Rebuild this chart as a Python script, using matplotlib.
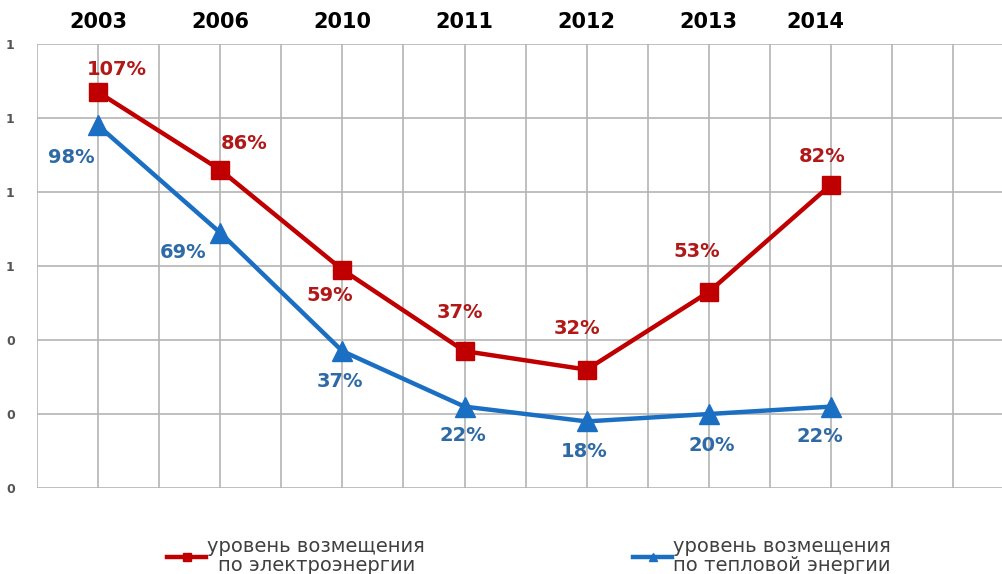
import matplotlib.pyplot as plt
from matplotlib.transforms import ScaledTranslation
from matplotlib.ticker import FormatStrFormatter, MultipleLocator

years = ["2003", "2006", "2010", "2011", "2012", "2013", "2014"]
elec = [1.07, 0.86, 0.59, 0.37, 0.32, 0.53, 0.82]
heat = [0.98, 0.69, 0.37, 0.22, 0.18, 0.20, 0.22]
elec_name = "уровень возмещения\nпо электроэнергии"
heat_name = "уровень возмещения\nпо тепловой энергии"

# label offsets in pixels relative to each marker
elec_off = [(19, 23), (24, 26), (-13, -26), (-5, 39), (-10, 41), (-12, 40), (-9, 28)]
heat_off = [(-27, -32), (-37, -20), (-2, -30), (-2, -29), (-2, -30), (3, -31), (-11, -30)]

red = "#c00000"
blue = "#1b6fc2"
red_txt = "#b11818"
blue_txt = "#2e6aa6"

fig = plt.figure(figsize=(10.02, 5.74), dpi=100)
ax = fig.add_axes([0.0369, 0.1498, 0.9631, 0.7735])

x = list(range(len(years)))
ax.plot(x, elec, color=red, lw=3.2, marker="s", ms=13.5, mec=red, zorder=3,
        label=elec_name)
ax.plot(x, heat, color=blue, lw=3.2, marker="^", ms=14, mec=blue, zorder=3,
        label=heat_name)

for xi, v, off in zip(x, elec, elec_off):
    ax.annotate(f"{round(v * 100)}%", (xi, v), xytext=off, textcoords="offset pixels",
                ha="center", va="center", color=red_txt, fontsize=14, fontweight="bold")
for xi, v, off in zip(x, heat, heat_off):
    ax.annotate(f"{round(v * 100)}%", (xi, v), xytext=off, textcoords="offset pixels",
                ha="center", va="center", color=blue_txt, fontsize=14, fontweight="bold")

ax.set_xlim(-0.5, 7.4)
ax.set_ylim(0, 1.2)
ax.set_xticks(x)
ax.set_xticklabels(years)
ax.xaxis.set_minor_locator(MultipleLocator(0.5))
ax.yaxis.set_major_locator(MultipleLocator(0.2))
ax.yaxis.set_major_formatter(FormatStrFormatter("%.0f"))
ax.xaxis.tick_top()
ax.tick_params(axis="x", which="both", length=0, pad=9, labelsize=15)
ax.tick_params(axis="y", length=0, pad=16, labelsize=9, labelcolor="#555555")
for t in ax.get_xticklabels():
    t.set_fontweight("bold")
for t in ax.get_yticklabels():
    t.set_fontweight("bold")

# last year label sits a little left of its column
last = ax.xaxis.get_major_ticks()[-1].label2
last.set_transform(last.get_transform() + ScaledTranslation(-0.16, 0, fig.dpi_scale_trans))

ax.grid(True, which="both", axis="x", color="#b4b4b4", lw=1.2)
ax.grid(True, which="major", axis="y", color="#b4b4b4", lw=1.2)
ax.set_axisbelow(True)
for s in ax.spines.values():
    s.set_visible(False)

leg = fig.legend(loc="center", bbox_to_anchor=(0.528, 0.031), ncol=2, frameon=False,
                 fontsize=14, handlelength=2.0, handletextpad=0.05, columnspacing=10.7,
                 markerscale=0.45, labelcolor="#404040", labelspacing=0.2)
for t in leg.get_texts():
    t.set_multialignment("center")
    t.set_linespacing(1.0)

fig.savefig("out.png", dpi=100)
